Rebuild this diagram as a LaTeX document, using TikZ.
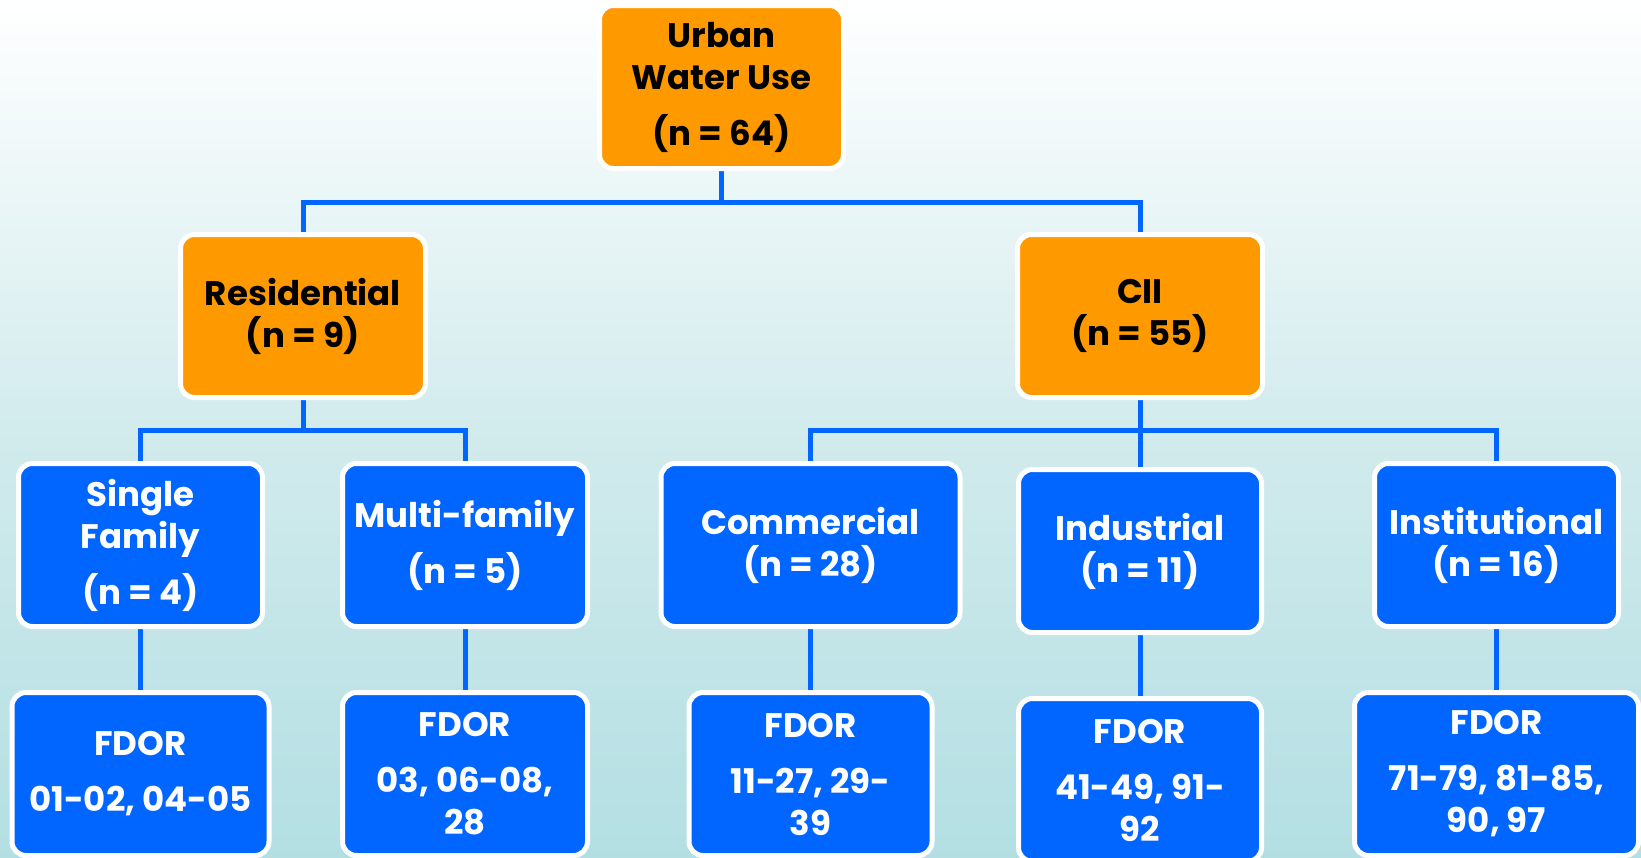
\documentclass[tikz,border=0pt]{standalone}
\usepackage{fontspec}
\setmainfont{Poppins}
\usetikzlibrary{backgrounds}
\definecolor{boxorange}{HTML}{FF9900}
\definecolor{boxblue}{HTML}{0066FF}
\definecolor{linkblue}{HTML}{0066FF}
\definecolor{bgtop}{HTML}{FFFFFF}
\definecolor{bgmid}{HTML}{D2EBED}
\definecolor{bgbot}{HTML}{B3DFE3}
\pgfdeclarelayer{bglayer}
\pgfdeclarelayer{linklayer}
\pgfsetlayers{bglayer,linklayer,main}
\tikzset{
  box/.style={rounded corners=14pt, draw=white, line width=5pt, align=center,
    minimum height=163pt, inner sep=0pt, font=\fontsize{34}{42}\selectfont\bfseries},
  obox/.style={box, fill=boxorange, text=black},
  bbox/.style={box, fill=boxblue, text=white},
  link/.style={draw=linkblue, line width=5pt},
}
\begin{document}
\begin{tikzpicture}[x=1pt,y=-1pt]
\begin{pgfonlayer}{bglayer}
\shade[top color=bgtop, bottom color=bgmid] (0,0) rectangle (1641,430);
\shade[top color=bgmid, bottom color=bgbot] (0,430) rectangle (1641,857);
\end{pgfonlayer}
\useasboundingbox (0,0) rectangle (1641,857);
% level 1
\node[obox, minimum width=244pt] (top) at (721.5,87) {Urban\\Water Use\\[14pt](n = 64)};
% level 2
\node[obox, minimum width=245pt] (res) at (303,316) {Residential\\(n = 9)};
\node[obox, minimum width=245pt] (cii) at (1140,316) {CII\\(n = 55)};
% level 3
\node[bbox, minimum width=244pt] (sf) at (140.5,545) {Single\\Family\\[14pt](n = 4)};
\node[bbox, minimum width=245pt] (mf) at (465,545) {Multi-family\\[14pt](n = 5)};
\node[bbox, minimum width=299pt] (com) at (810.5,545) {Commercial\\(n = 28)};
\node[bbox, minimum width=243pt] (ind) at (1140,551) {Industrial\\(n = 11)};
\node[bbox, minimum width=244pt] (ins) at (1496.5,545) {Institutional\\(n = 16)};
% level 4
\node[bbox, minimum width=257pt] (fsf) at (140.5,774) {FDOR\\[14pt]01-02, 04-05};
\node[bbox, minimum width=245pt] (fmf) at (465,774) {FDOR\\[14pt]03, 06-08,\\28};
\node[bbox, minimum width=243pt] (fcom) at (810.5,774) {FDOR\\[14pt]11-27, 29-\\39};
\node[bbox, minimum width=243pt] (find) at (1140,780) {FDOR\\[14pt]41-49, 91-\\92};
\node[bbox, minimum width=284pt] (fins) at (1496.5,774) {FDOR\\[14pt]71-79, 81-85,\\90, 97};
% connectors
\coordinate (bus1) at (721.5,202);
\coordinate (bus2) at (303,430);
\coordinate (bus3) at (1140,430);
\begin{pgfonlayer}{linklayer}
\draw[link] (top.south) -- (bus1);
\draw[link] (res.north) |- (bus1) -| (cii.north);
\draw[link] (res.south) -- (bus2);
\draw[link] (sf.north) |- (bus2) -| (mf.north);
\draw[link] (cii.south) -- (bus3) -- (ind.north);
\draw[link] (com.north) |- (bus3) -| (ins.north);
\draw[link] (sf.south) -- (fsf.north);
\draw[link] (mf.south) -- (fmf.north);
\draw[link] (com.south) -- (fcom.north);
\draw[link] (ind.south) -- (find.north);
\draw[link] (ins.south) -- (fins.north);
\end{pgfonlayer}
\end{tikzpicture}
\end{document}
